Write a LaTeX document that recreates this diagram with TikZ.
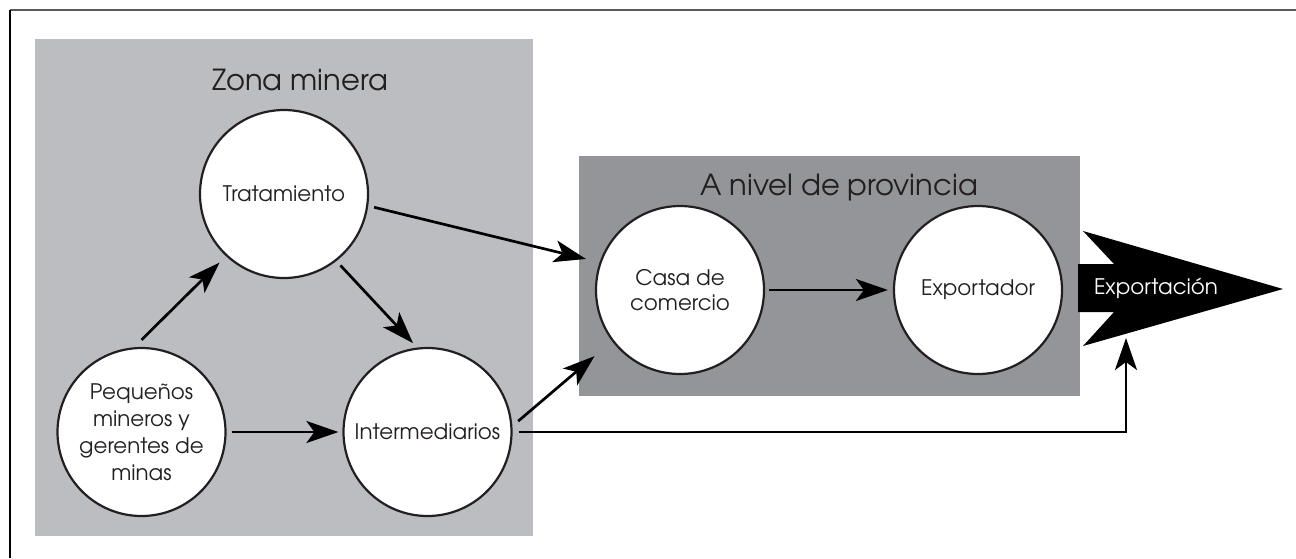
\documentclass[tikz,border=0pt]{standalone}
\usepackage{fontspec}
\setmainfont{texgyreadventor-regular.otf}
\usetikzlibrary{arrows.meta}
\definecolor{lightbox}{HTML}{BCBDC0}
\definecolor{darkbox}{HTML}{939598}
\definecolor{ink}{HTML}{231F20}
\definecolor{framegray}{HTML}{5A5A5A}
\begin{document}
\begin{tikzpicture}[x=0.5pt,y=-0.5pt,
  actor/.style={circle, draw=ink, line width=1.1pt, fill=white, minimum size=84pt, inner sep=0pt,
    align=center, text=ink, font=\fontsize{10.7}{13.5}\selectfont},
  title/.style={text=ink, font=\fontsize{14.5}{17}\selectfont, inner sep=0pt},
  arr/.style={-{Stealth[length=16pt,width=11pt,inset=4pt]}, line width=1.35pt, draw=black},
  zone/.style={draw=none}]
\useasboundingbox (0,0) rectangle (1296,558);
% frame
\draw[framegray, line width=1pt] (10,10) -- (1296,10);
\draw[black, line width=0.6pt] (10,10) -- (10,558);
% zones
\fill[lightbox] (35,39) rectangle (533,536);
\fill[darkbox] (579,156) rectangle (1080,396);
\node[title] (zona) at (300,80) {Zona minera};
\node[title] (prov) at (839,188) {A nivel de provincia};
% export arrow
\fill[black] (1078,264) -- (1114,264) -- (1083,231) -- (1283,289) -- (1083,346) -- (1114,312) -- (1078,312) -- cycle;
\node[text=white, font=\fontsize{10.7}{13}\selectfont, inner sep=0pt] (export) at (1156,288) {Exportación};
\coordinate (exptip) at (1126,338);
% actors
\node[actor] (trat) at (284,194) {Tratamiento};
\node[actor] (peq) at (141.5,432) {Pequeños\\mineros y\\gerentes de\\minas};
\node[actor] (inter) at (427.5,432) {Intermediarios};
\node[actor, font=\fontsize{10.7}{12.5}\selectfont] (casa) at (680,290) {Casa de\\comercio};
\node[actor] (expo) at (978,290) {Exportador};
% connectors
\draw[arr, shorten <=3pt, shorten >=7pt] (trat.-8) -- (casa.161);
\draw[arr, shorten >=4.5pt] ([yshift=3.5pt]peq.north) -- (trat.227);
\draw[arr, shorten <=3pt, shorten >=3pt] (trat.-52) -- (inter.97);
\draw[arr, shorten <=2.5pt, shorten >=2pt] (peq.east) -- (inter.west);
\draw[arr, shorten <=3.8pt, shorten >=11.5pt] (inter.4) -- (casa.217);
\draw[arr, shorten <=2pt, shorten >=2.5pt] (casa.east) -- (expo.west);
\draw[arr, shorten <=3pt] (inter.east) -| (exptip);
\end{tikzpicture}
\end{document}
